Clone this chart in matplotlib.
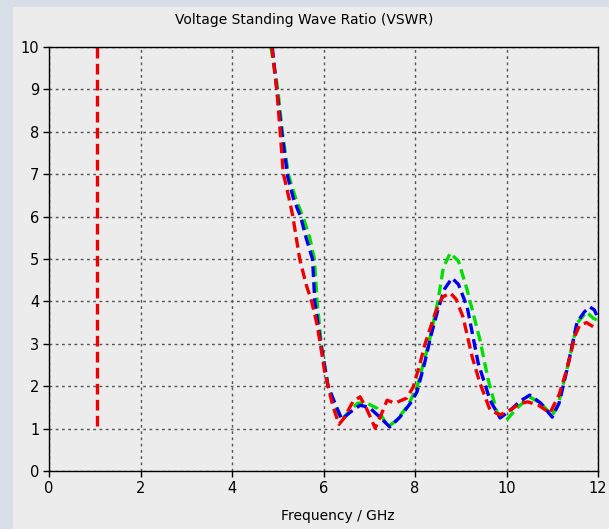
import matplotlib
matplotlib.use('Agg')

import matplotlib.pyplot as plt
from matplotlib.patches import Rectangle

# frequency (GHz) / VSWR samples
green_f = [4.85, 5.0, 5.1, 5.23, 5.4, 5.55, 5.7, 5.8, 5.86, 5.95, 6.1, 6.25, 6.4,
           6.55, 6.75, 6.95, 7.17, 7.41, 7.6, 7.85, 8.05, 8.3, 8.5, 8.62, 8.77,
           8.95, 9.14, 9.42, 9.6, 9.79, 10.0, 10.2, 10.5, 10.75, 11.0, 11.15,
           11.32, 11.55, 11.75, 11.9, 12.0]
green_v = [10.0, 9.0, 8.0, 7.0, 6.4, 6.0, 5.5, 5.0, 4.0, 3.0, 2.0, 1.55, 1.2,
           1.4, 1.6, 1.6, 1.48, 1.04, 1.2, 1.55, 2.0, 3.0, 4.0, 4.8, 5.14,
           4.95, 4.27, 3.09, 2.15, 1.39, 1.2, 1.45, 1.75, 1.6, 1.3, 1.65,
           2.4, 3.5, 3.75, 3.6, 3.55]

blue_f = [4.88, 4.98, 5.09, 5.22, 5.35, 5.5, 5.62, 5.76, 5.81, 5.94, 6.1, 6.25,
          6.4, 6.6, 6.8, 7.0, 7.23, 7.45, 7.67, 7.9, 8.04, 8.2, 8.35, 8.5, 8.65,
          8.81, 8.95, 9.14, 9.38, 9.64, 9.86, 10.1, 10.3, 10.51, 10.75, 11.0,
          11.15, 11.32, 11.54, 11.7, 11.82, 11.92, 12.0]
blue_v = [10.0, 9.0, 7.97, 6.93, 6.4, 6.0, 5.5, 5.0, 4.0, 3.0, 2.0, 1.6,
          1.22, 1.4, 1.55, 1.5, 1.27, 1.04, 1.27, 1.6, 1.86, 2.5, 3.2, 3.8, 4.3,
          4.55, 4.4, 3.87, 2.55, 1.67, 1.25, 1.45, 1.65, 1.79, 1.6, 1.27,
          1.6, 2.38, 3.5, 3.75, 3.87, 3.8, 3.6]

red_f = [4.87, 4.98, 5.05, 5.12, 5.27, 5.33, 5.48, 5.62, 5.74, 5.85, 5.93, 6.03,
         6.21, 6.34, 6.45, 6.64, 6.8, 6.95, 7.13, 7.25, 7.39, 7.56, 7.82, 7.96,
         8.1, 8.22, 8.45, 8.6, 8.77, 8.9, 9.05, 9.25, 9.42, 9.64, 9.86, 10.1,
         10.3, 10.47, 10.7, 10.95, 11.15, 11.32, 11.5, 11.6, 11.75, 11.9, 12.0]
red_v = [10.0, 8.98, 8.04, 7.03, 6.32, 6.0, 5.0, 4.4, 4.0, 3.5, 3.0, 2.31,
         1.51, 1.1, 1.25, 1.63, 1.75, 1.45, 1.01, 1.3, 1.67, 1.6, 1.72, 1.98,
         2.5, 3.0, 3.75, 4.1, 4.2, 4.05, 3.63, 2.69, 2.07, 1.44, 1.32, 1.45,
         1.6, 1.63, 1.55, 1.37, 1.8, 2.4, 3.2, 3.44, 3.5, 3.4, 3.37]

# vertical red marker line
marker_f = [1.05, 1.05]
marker_v = [1.05, 10.0]

fig = plt.figure(figsize=(6.09, 5.29), dpi=100, facecolor='#D8DEE7')
fig.patches.append(Rectangle((13 / 609, 0), 1, 1 - 7 / 529, transform=fig.transFigure,
                             facecolor='#ECECEC', edgecolor='none', zorder=-1))

ax = fig.add_axes([49 / 609, 1 - 471 / 529, 549 / 609, 424 / 529])
ax.set_facecolor('#ECECEC')

dash = dict(linestyle=(0, (3.2, 1.6)), linewidth=2.4)
ax.plot(green_f, green_v, color='#00E000', **dash)
ax.plot(blue_f, blue_v, color='#0000F0', **dash)
ax.plot(red_f, red_v, color='#F00000', **dash)
ax.plot(marker_f, marker_v, color='#F00000', **dash)

ax.set_xlim(0, 12)
ax.set_ylim(0, 10)
ax.set_xticks(range(0, 13, 2))
ax.set_yticks(range(0, 11))
ax.grid(True, color='#555555', linestyle=(0, (2, 2.5)), linewidth=1)
ax.tick_params(direction='out', length=4, width=1, labelsize=10.5, pad=3)
for s in ax.spines.values():
    s.set_linewidth(1)
    s.set_color('black')

fig.text(0.5, 1 - 20 / 529, 'Voltage Standing Wave Ratio (VSWR)', ha='center',
         va='center', fontsize=10)
fig.text(338 / 609, 1 - 516 / 529, 'Frequency / GHz', ha='center', va='center',
         fontsize=10)

plt.savefig('out.png', dpi=100, facecolor=fig.get_facecolor())
